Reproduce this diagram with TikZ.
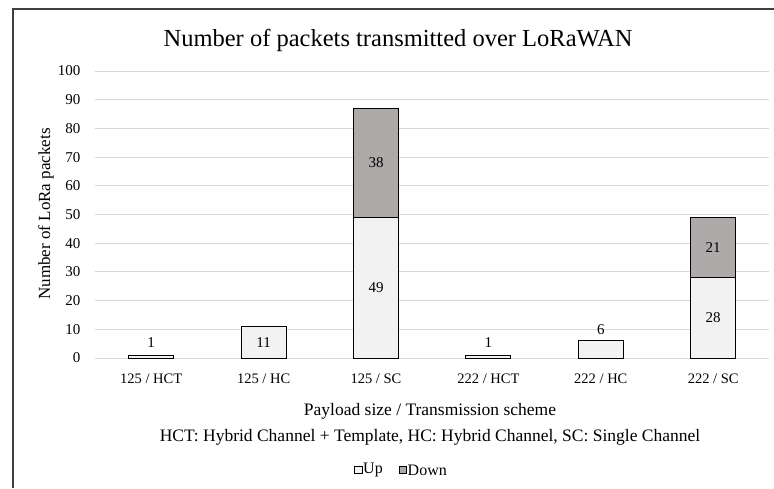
\documentclass[tikz,border=0pt]{standalone}
\usepackage{fontspec}
\setmainfont{Liberation Serif}
\definecolor{upfill}{HTML}{F2F2F2}
\definecolor{downfill}{HTML}{AEAAAA}
\definecolor{gridc}{HTML}{D9D9D9}
\definecolor{framec}{HTML}{404040}
\begin{document}
\begin{tikzpicture}[x=1pt,y=-1pt,
  gridline/.style={draw=gridc,line width=1pt},
  upbar/.style={draw=black,fill=upfill,line width=0.9pt},
  downbar/.style={draw=black,fill=downfill,line width=0.9pt},
  ticklab/.style={anchor=east,font=\fontsize{15}{16}\selectfont,inner sep=0pt},
  catlab/.style={font=\fontsize{14.5}{16}\selectfont,inner sep=0pt},
  vallab/.style={font=\fontsize{15}{16}\selectfont,inner sep=0pt},
  axtitle/.style={font=\fontsize{17.5}{19}\selectfont,inner sep=0pt},
  legtext/.style={anchor=west,inner sep=0pt,font=\fontsize{16}{17}\selectfont},
  legbox/.style={draw=black,line width=0.6pt,minimum size=7.5pt,inner sep=0pt}]
\useasboundingbox (0,0) rectangle (774,488);
\fill[white] (0,0) rectangle (774,488);
% frame
\draw[framec,line width=1.4pt] (13,488) -- (13,9) -- (774,9);
% title
\node[font=\fontsize{24.5}{28}\selectfont,inner sep=0pt] (title) at (398,40) {Number of packets transmitted over LoRaWAN};
% grid and ticks
\foreach \v in {0,10,...,100}{
  \draw[gridline] (95,{358-2.87*\v}) -- (769,{358-2.87*\v});
  \node[ticklab] (t\v) at (80.5,{358-2.87*\v}) {\v};
}
% bars
\foreach \i/\u/\d in {0/1/0,1/11/0,2/49/38,3/1/0,4/6/0,5/28/21}{
  \pgfmathsetmacro\cx{151.2+112.4*\i}
  \draw[upbar] ({\cx-22.5},358) rectangle ({\cx+22.5},{358-2.87*\u});
  \ifnum\d>0
    \draw[downbar] ({\cx-22.5},{358-2.87*\u}) rectangle ({\cx+22.5},{358-2.87*(\u+\d)});
  \fi
}
% value labels
\node[vallab] (va) at (151.2,343) {1};
\node[vallab] (vb) at (263.6,{358-2.87*5.5}) {11};
\node[vallab] (vc1) at (376.0,{358-2.87*24.5}) {49};
\node[vallab] (vc2) at (376.0,{358-2.87*68}) {38};
\node[vallab] (vd) at (488.4,343) {1};
\node[vallab] (ve) at (600.8,330) {6};
\node[vallab] (vf1) at (713.2,{358-2.87*14}) {28};
\node[vallab] (vf2) at (713.2,{358-2.87*38.5}) {21};
% category labels
\foreach \i/\lab in {0/{125 / HCT},1/{125 / HC},2/{125 / SC},3/{222 / HCT},4/{222 / HC},5/{222 / SC}}{
  \node[catlab] (cat\i) at ({151.2+112.4*\i},379) {\lab};
}
% axis titles
\node[axtitle,font=\fontsize{17}{18}\selectfont,rotate=90] (ytitle) at (46,214) {Number of LoRa packets};
\node[axtitle] (xtitle) at (430,411) {Payload size / Transmission scheme};
\node[axtitle] (xnote) at (430,437) {HCT: Hybrid Channel + Template, HC: Hybrid Channel, SC: Single Channel};
% legend
\node[legbox,fill=upfill] (lb1) at (358.5,470) {};
\node[legtext] (lt1) at (363,470) {Up};
\node[legbox,fill=downfill] (lb2) at (403,470) {};
\node[legtext] (lt2) at (407.5,470) {Down};
\end{tikzpicture}
\end{document}
